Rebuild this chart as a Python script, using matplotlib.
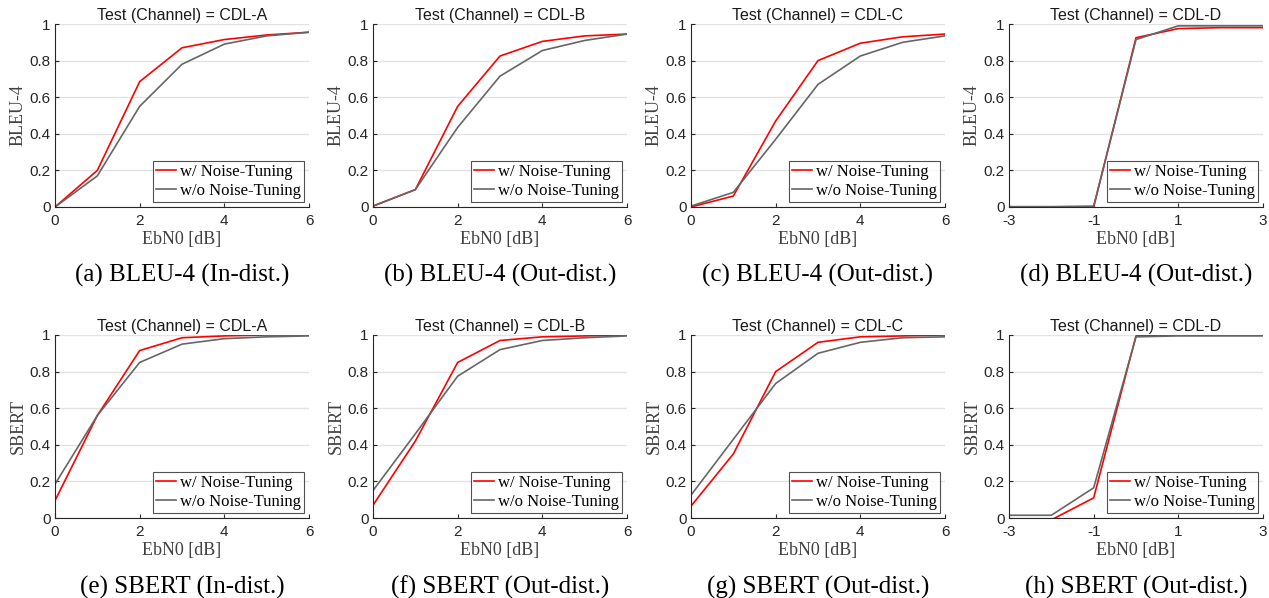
import matplotlib
matplotlib.use("Agg")
import matplotlib.pyplot as plt

# x axes
ebn0 = [0, 1, 2, 3, 4, 5, 6]
ebn0_d = [-3, -2, -1, 0, 1, 2, 3]

# BLEU-4 values
bleu_a_w = [0.0, 0.20, 0.685, 0.87, 0.915, 0.94, 0.955]
bleu_a_wo = [0.0, 0.17, 0.55, 0.78, 0.89, 0.935, 0.955]
bleu_b_w = [0.005, 0.095, 0.55, 0.825, 0.905, 0.935, 0.945]
bleu_b_wo = [0.005, 0.095, 0.435, 0.715, 0.855, 0.91, 0.945]
bleu_c_w = [0.0, 0.06, 0.47, 0.80, 0.895, 0.93, 0.945]
bleu_c_wo = [0.005, 0.08, 0.37, 0.67, 0.825, 0.90, 0.935]
bleu_d_w = [0.0, 0.0, 0.0, 0.925, 0.975, 0.98, 0.98]
bleu_d_wo = [0.002, 0.002, 0.005, 0.915, 0.99, 0.99, 0.99]

# SBERT values
sbert_a_w = [0.095, 0.56, 0.915, 0.985, 0.995, 1.0, 1.0]
sbert_a_wo = [0.185, 0.56, 0.85, 0.95, 0.98, 0.99, 0.995]
sbert_b_w = [0.07, 0.42, 0.85, 0.97, 0.99, 0.995, 1.0]
sbert_b_wo = [0.15, 0.46, 0.775, 0.92, 0.97, 0.985, 0.995]
sbert_c_w = [0.065, 0.35, 0.80, 0.96, 0.99, 0.995, 1.0]
sbert_c_wo = [0.125, 0.43, 0.735, 0.90, 0.96, 0.985, 0.99]
sbert_d_w = [-0.01, -0.01, 0.11, 0.995, 1.0, 1.0, 1.0]
sbert_d_wo = [0.015, 0.015, 0.165, 0.99, 0.995, 0.995, 0.995]

channels = ["CDL-A", "CDL-B", "CDL-C", "CDL-D"]
captions_top = ["(a) BLEU-4 (In-dist.)", "(b) BLEU-4 (Out-dist.)",
                "(c) BLEU-4 (Out-dist.)", "(d) BLEU-4 (Out-dist.)"]
captions_bot = ["(e) SBERT (In-dist.)", "(f) SBERT (Out-dist.)",
                "(g) SBERT (Out-dist.)", "(h) SBERT (Out-dist.)"]
xticks = [0, 2, 4, 6]
xticks_d = [-3, -1, 1, 3]
yticks = [0, 0.2, 0.4, 0.6, 0.8, 1]

top_rows = [(bleu_a_w, bleu_a_wo), (bleu_b_w, bleu_b_wo),
            (bleu_c_w, bleu_c_wo), (bleu_d_w, bleu_d_wo)]
bot_rows = [(sbert_a_w, sbert_a_wo), (sbert_b_w, sbert_b_wo),
            (sbert_c_w, sbert_c_wo), (sbert_d_w, sbert_d_wo)]

W, H = 1269, 598
fig = plt.figure(figsize=(W / 100, H / 100), dpi=100)

sans = "Liberation Sans"
serif = "Liberation Serif"
axcol = "#262626"
red = "#ff0000"
gray = "#666666"

lefts = [55, 373, 691, 1009]
aw, ah = 254, 183
row_bottoms = [207, 518]


def draw(ax, x, yw, ywo, ylabel, channel, is_d):
    ax.plot(x, yw, color=red, lw=1.2, label="w/ Noise-Tuning")
    ax.plot(x, ywo, color=gray, lw=1.2, label="w/o Noise-Tuning")
    ax.set_ylim(0, 1)
    ticks = xticks_d if is_d else xticks
    ax.set_xlim(ticks[0], ticks[-1])
    ax.set_xticks(ticks)
    ax.set_xticklabels([str(t) for t in ticks])
    ax.set_yticks(yticks)
    ax.set_yticklabels(["%g" % t for t in yticks])
    ax.grid(axis="y", color="#e3e3e3", lw=1.0)
    ax.set_axisbelow(True)
    for s in ["top", "right"]:
        ax.spines[s].set_visible(False)
    for s in ["left", "bottom"]:
        ax.spines[s].set_color(axcol)
        ax.spines[s].set_linewidth(0.8)
    ax.tick_params(direction="in", length=3, width=0.8, color=axcol,
                   labelcolor=axcol, labelsize=11, pad=3)
    ax.tick_params(axis="x", pad=5)
    for lab in ax.get_xticklabels() + ax.get_yticklabels():
        lab.set_family(sans)
    ax.set_title("Test (Channel) = " + channel, fontsize=11.5,
                 family=sans, pad=3, color="#1a1a1a")
    ax.set_xlabel("EbN0 [dB]", fontsize=13, family=serif, color="#404040",
                  labelpad=2)
    ax.set_ylabel(ylabel, fontsize=13, family=serif, color="#404040",
                  labelpad=2)
    leg = ax.legend(loc="lower right", prop={"family": serif, "size": 12},
                    frameon=True, fancybox=False, edgecolor="#262626",
                    handlelength=1.2, handletextpad=0.2, borderpad=0.2,
                    labelspacing=0.15, borderaxespad=0.3)
    leg.get_frame().set_linewidth(0.8)


for r, (rows, ylabel, caps) in enumerate([(top_rows, "BLEU-4", captions_top),
                                           (bot_rows, "SBERT", captions_bot)]):
    yb = row_bottoms[r]
    for c in range(4):
        ax = fig.add_axes([lefts[c] / W, 1 - yb / H, aw / W, ah / H])
        is_d = c == 3
        x = ebn0_d if is_d else ebn0
        draw(ax, x, rows[c][0], rows[c][1], ylabel, channels[c], is_d)
        cy = 275 if r == 0 else 587
        fig.text((lefts[c] + aw / 2) / W, 1 - cy / H, caps[c], ha="center",
                 va="center", fontsize=18, family=serif)

fig.savefig("out.png", dpi=100)
